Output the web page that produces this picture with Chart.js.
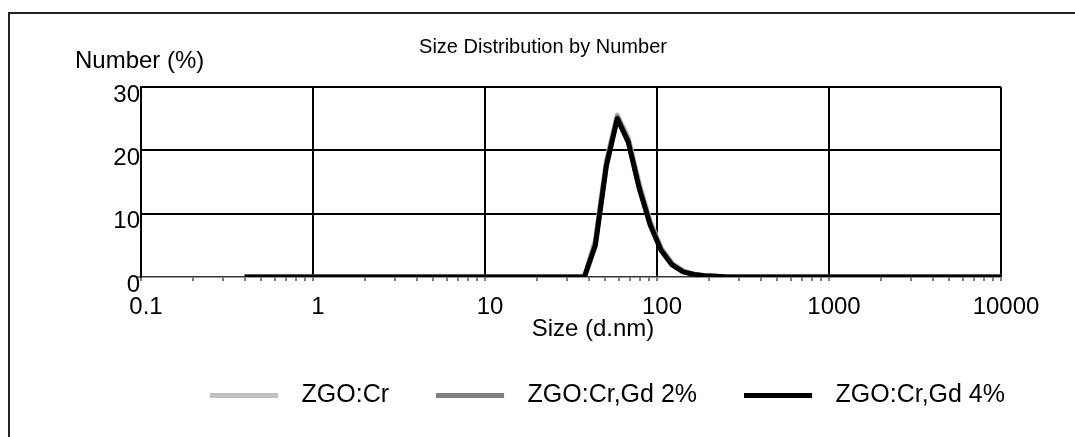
<!DOCTYPE html>
<html lang="en">
<head>
<meta charset="UTF-8">
<title>Size Distribution by Number</title>
<script src="https://cdn.jsdelivr.net/npm/chart.js"></script>
<style>
    html, body {
        margin: 0;
        padding: 0;
        background: #fff;
    }
    #wrap {
        width: 1075px;
        height: 437px;
    }
</style>
</head>
<body>
<div id="wrap"><canvas id="sizeChart" width="1075" height="437"></canvas></div>
<script>
// size bins (d.nm)
const sizes = [
    0.4, 0.4632, 0.5365, 0.6213, 0.7195, 0.8332, 0.9649, 1.117, 1.294, 1.499,
    1.736, 2.010, 2.328, 2.696, 3.122, 3.615, 4.187, 4.849, 5.615, 6.503,
    7.531, 8.721, 10.10, 11.70, 13.54, 15.69, 18.17, 21.04, 24.36, 28.21,
    32.67, 37.84, 43.82, 50.75, 58.77, 68.06, 78.82, 91.28, 105.7, 122.4,
    141.8, 164.2, 190.1, 220.2, 255.0, 295.3, 342.0, 396.1, 458.7, 531.2,
    615.1, 712.4, 825.0, 955.4, 1106, 1281, 1484, 1718, 1990, 2305,
    2669, 3091, 3580, 4145, 4801, 5560, 6439, 7456, 8635, 10000
];

// Number (%) per bin
const zgoCr = [
    0, 0, 0, 0, 0, 0, 0, 0, 0, 0,
    0, 0, 0, 0, 0, 0, 0, 0, 0, 0,
    0, 0, 0, 0, 0, 0, 0, 0, 0, 0,
    0, 0, 5.8, 18.3, 25.6, 22.0, 14.8, 8.8, 4.6, 2.2,
    1.0, 0.4, 0.2, 0.1, 0, 0, 0, 0, 0, 0,
    0, 0, 0, 0, 0, 0, 0, 0, 0, 0,
    0, 0, 0, 0, 0, 0, 0, 0, 0, 0
];
const zgoGd2 = [
    0, 0, 0, 0, 0, 0, 0, 0, 0, 0,
    0, 0, 0, 0, 0, 0, 0, 0, 0, 0,
    0, 0, 0, 0, 0, 0, 0, 0, 0, 0,
    0, 0, 5.4, 17.9, 25.3, 21.6, 14.3, 8.5, 4.4, 2.0,
    0.9, 0.4, 0.2, 0.1, 0, 0, 0, 0, 0, 0,
    0, 0, 0, 0, 0, 0, 0, 0, 0, 0,
    0, 0, 0, 0, 0, 0, 0, 0, 0, 0
];
const zgoGd4 = [
    0, 0, 0, 0, 0, 0, 0, 0, 0, 0,
    0, 0, 0, 0, 0, 0, 0, 0, 0, 0,
    0, 0, 0, 0, 0, 0, 0, 0, 0, 0,
    0, 0, 5.0, 17.5, 25.0, 21.3, 14.0, 8.2, 4.2, 1.9,
    0.8, 0.4, 0.2, 0.1, 0, 0, 0, 0, 0, 0,
    0, 0, 0, 0, 0, 0, 0, 0, 0, 0,
    0, 0, 0, 0, 0, 0, 0, 0, 0, 0
];

const seriesNames = ['ZGO:Cr', 'ZGO:Cr,Gd 2%', 'ZGO:Cr,Gd 4%'];
const seriesColors = ['#c0c0c0', '#808080', '#000000'];
const xTickLabels = ['0.1', '1', '10', '100', '1000', '10000'];
const yTickLabels = ['0', '10', '20', '30'];
const yMinorTicks = [5, 15, 25];

const FONT = '"Liberation Sans", Arial, Helvetica, sans-serif';
Chart.defaults.font.family = FONT;
Chart.defaults.font.size = 24;
Chart.defaults.color = '#000';

function toPoints(values) {
    return sizes.map((s, i) => ({ x: s, y: values[i] }));
}
function fmt(v) {
    return String(+Number(v).toPrecision(6));
}
function isDecade(v) {
    const l = Math.log10(v);
    return Math.abs(l - Math.round(l)) < 1e-9;
}
function isWholeMantissa(v) {
    const m = v / Math.pow(10, Math.floor(Math.log10(v) + 1e-9));
    return Math.abs(m - Math.round(m)) < 1e-6;
}
// legend swatch: a thick line with some empty room after it
function swatch(color) {
    const c = document.createElement('canvas');
    c.width = 79;
    c.height = 5;
    const g = c.getContext('2d');
    g.fillStyle = color;
    g.fillRect(0, 0, 68, 5);
    return c;
}

// frame, title and axis captions
const decorations = {
    id: 'decorations',
    beforeDraw(chart) {
        const ctx = chart.ctx;
        ctx.save();
        ctx.fillStyle = '#fff';
        ctx.fillRect(0, 0, chart.width, chart.height);
        ctx.strokeStyle = '#222';
        ctx.lineWidth = 2;
        ctx.strokeRect(9, 13, chart.width + 20, chart.height + 20);
        ctx.restore();
    },
    afterDraw(chart) {
        const ctx = chart.ctx;
        ctx.save();
        ctx.fillStyle = '#000';
        ctx.textBaseline = 'middle';
        ctx.textAlign = 'center';
        ctx.font = '20px ' + FONT;
        ctx.fillText('Size Distribution by Number', 543, 47);
        ctx.font = '24px ' + FONT;
        ctx.textAlign = 'left';
        ctx.fillText('Number (%)', 75, 61);
        ctx.textAlign = 'center';
        ctx.fillText('Size (d.nm)', 593, 329);
        ctx.restore();
    }
};

const datasets = [zgoCr, zgoGd2, zgoGd4].map((vals, i) => ({
    label: seriesNames[i],
    data: toPoints(vals),
    borderColor: seriesColors[i],
    backgroundColor: seriesColors[i],
    borderWidth: 5,
    borderJoinStyle: 'round',
    pointRadius: 0,
    pointStyle: swatch(seriesColors[i]),
    tension: 0,
    fill: false,
    order: 3 - i
}));

new Chart(document.getElementById('sizeChart'), {
    type: 'line',
    data: { datasets: datasets },
    plugins: [decorations],
    options: {
        responsive: false,
        animation: false,
        layout: { padding: { top: 87, left: 0, right: 23, bottom: 19.5 } },
        plugins: {
            tooltip: { enabled: false },
            title: { display: false },
            legend: {
                position: 'bottom',
                align: 'end',
                labels: {
                    usePointStyle: true,
                    pointStyleWidth: 79,
                    boxHeight: 5,
                    padding: 47,
                    color: '#000',
                    font: { size: 25 },
                    sort: (a, b) => a.datasetIndex - b.datasetIndex
                }
            }
        },
        scales: {
            x: {
                type: 'logarithmic',
                min: 0.1,
                max: 10000,
                afterFit(scale) {
                    scale.height = 58.5;
                    scale.paddingLeft = 0;
                    scale.paddingRight = 74;
                },
                border: { display: true, color: '#333', width: 1.5 },
                grid: {
                    drawTicks: true,
                    tickLength: 4,
                    lineWidth: 2,
                    color: ctx => (ctx.tick && isDecade(ctx.tick.value)) ? '#000' : 'rgba(0,0,0,0)',
                    tickColor: ctx => (ctx.tick && isWholeMantissa(ctx.tick.value)) ? '#000' : 'rgba(0,0,0,0)',
                    tickWidth: 1
                },
                ticks: {
                    autoSkip: false,
                    maxRotation: 0,
                    padding: 12,
                    labelOffset: 5,
                    color: '#000',
                    font: { size: 24 },
                    callback: v => xTickLabels.includes(fmt(v)) ? fmt(v) : ''
                }
            },
            y: {
                min: 0,
                max: 30,
                afterFit(scale) {
                    scale.width = 141;
                    scale.paddingTop = 0;
                    scale.paddingBottom = 0;
                },
                border: { display: true, color: '#000', width: 1.5 },
                grid: {
                    drawTicks: true,
                    tickLength: 5,
                    lineWidth: 2,
                    color: ctx => (ctx.tick && ctx.tick.value > 0 && yTickLabels.includes(fmt(ctx.tick.value))) ? '#000' : 'rgba(0,0,0,0)',
                    tickColor: ctx => (ctx.tick && (yMinorTicks.includes(ctx.tick.value) || ctx.tick.value === 0)) ? '#000' : 'rgba(0,0,0,0)',
                    tickWidth: 1
                },
                ticks: {
                    stepSize: 5,
                    padding: -4,
                    labelOffset: 8,
                    color: '#000',
                    font: { size: 24 },
                    callback: v => yTickLabels.includes(fmt(v)) ? fmt(v) : ''
                }
            }
        }
    }
});
</script>
</body>
</html>
